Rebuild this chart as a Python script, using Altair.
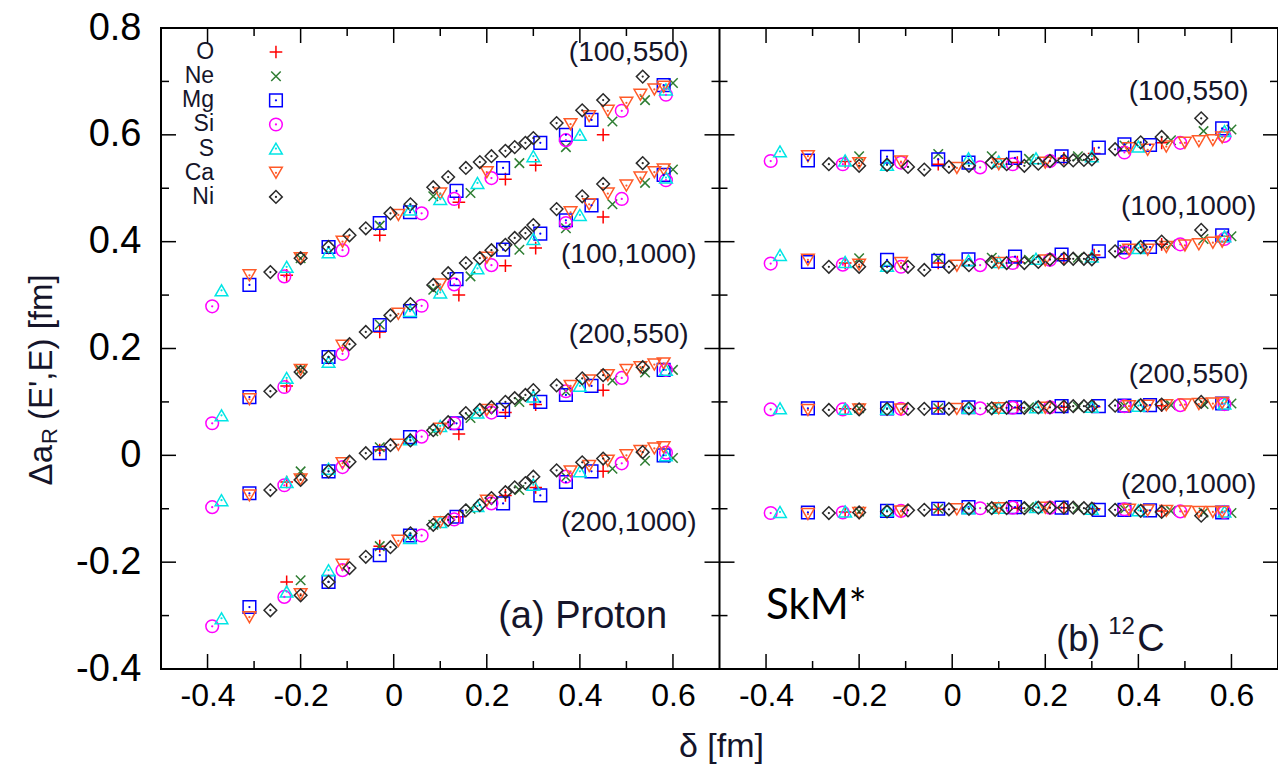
import altair as alt
import pandas as pd

# ---------------- data ----------------
SPECIES = ["O", "Ne", "Mg", "Si", "S", "Ca", "Ni"]
COLORS = ["#ff0000", "#2e7d32", "#0000ff", "#ff00ff", "#00e5e5", "#ff5a28", "#2b2b2b"]
PLUS = "M-1,0L1,0M0,-1L0,1"
CROSS = "M-0.75,-0.75L0.75,0.75M-0.75,0.75L0.75,-0.75"
SHAPES = [PLUS, CROSS, "square", "circle", "triangle-up", "triangle-down", "diamond"]
DOTTED = ["Mg", "Si", "S", "Ca", "Ni"]

DELTA = {
    "O": [-0.23, -0.03, 0.14, 0.24, 0.305, 0.45],
    "Ne": [-0.2, -0.03, 0.085, 0.165, 0.27, 0.37, 0.47, 0.54, 0.6],
    "Mg": [-0.31, -0.14, -0.03, 0.035, 0.135, 0.235, 0.315, 0.37, 0.425, 0.58],
    "Si": [-0.39, -0.235, -0.11, 0.06, 0.13, 0.21, 0.37, 0.49, 0.585],
    "S": [-0.37, -0.23, -0.14, 0.035, 0.1, 0.18, 0.3, 0.4, 0.585],
    "Ca": [-0.31, -0.2, -0.11, 0.01, 0.1, 0.2, 0.38, 0.42, 0.46, 0.5, 0.53, 0.56, 0.58],
    "Ni": [-0.265, -0.2, -0.14, -0.095, -0.06, -0.007, 0.036, 0.085, 0.117, 0.155,
           0.185, 0.21, 0.24, 0.26, 0.283, 0.30, 0.35, 0.405, 0.45, 0.535],
}

# (a) Proton
P_100_550 = {
    "O": [0.337, 0.412, 0.474, 0.517, 0.543, 0.600],
    "Ne": [0.369, 0.430, 0.485, 0.491, 0.547, 0.577, 0.625, 0.665, 0.697],
    "Mg": [0.319, 0.390, 0.435, 0.455, 0.495, 0.538, 0.585, 0.600, 0.628, 0.693],
    "Si": [0.279, 0.335, 0.384, 0.453, 0.480, 0.519, 0.590, 0.645, 0.675],
    "S": [0.309, 0.353, 0.380, 0.460, 0.480, 0.510, 0.560, 0.600, 0.685],
    "Ca": [0.337, 0.369, 0.400, 0.450, 0.490, 0.530, 0.620, 0.635, 0.645, 0.660, 0.675, 0.685, 0.690],
    "Ni": [0.343, 0.369, 0.390, 0.412, 0.425, 0.453, 0.470, 0.502, 0.521, 0.538,
           0.549, 0.560, 0.570, 0.577, 0.585, 0.594, 0.622, 0.646, 0.665, 0.709],
}
P_100_1000 = {
    "O": [0.130, 0.231, 0.300, 0.355, 0.388, 0.446],
    "Ne": [0.160, 0.245, 0.310, 0.335, 0.385, 0.425, 0.470, 0.510, 0.535],
    "Mg": [0.109, 0.184, 0.244, 0.270, 0.330, 0.385, 0.415, 0.440, 0.468, 0.525],
    "Si": [0.060, 0.128, 0.190, 0.280, 0.320, 0.356, 0.435, 0.480, 0.515],
    "S": [0.075, 0.145, 0.175, 0.270, 0.305, 0.350, 0.405, 0.450, 0.520],
    "Ca": [0.105, 0.160, 0.205, 0.265, 0.320, 0.370, 0.455, 0.470, 0.490, 0.505, 0.520, 0.530, 0.535],
    "Ni": [0.120, 0.156, 0.184, 0.208, 0.231, 0.262, 0.283, 0.319, 0.341, 0.360,
           0.369, 0.384, 0.394, 0.407, 0.416, 0.431, 0.461, 0.485, 0.508, 0.547],
}
P_200_550 = {
    "O": [-0.050, 0.010, 0.040, 0.080, 0.095, 0.122],
    "Ne": [-0.030, 0.015, 0.045, 0.070, 0.100, 0.120, 0.140, 0.155, 0.160],
    "Mg": [-0.071, -0.030, 0.004, 0.034, 0.060, 0.085, 0.100, 0.113, 0.130, 0.160],
    "Si": [-0.097, -0.056, -0.022, 0.035, 0.060, 0.080, 0.120, 0.145, 0.160],
    "S": [-0.084, -0.050, -0.025, 0.030, 0.055, 0.080, 0.110, 0.130, 0.160],
    "Ca": [-0.075, -0.045, -0.015, 0.020, 0.050, 0.085, 0.130, 0.140, 0.150, 0.160, 0.165, 0.170, 0.172],
    "Ni": [-0.065, -0.046, -0.030, -0.012, 0.004, 0.019, 0.028, 0.047, 0.062, 0.079,
           0.085, 0.090, 0.100, 0.107, 0.113, 0.122, 0.131, 0.144, 0.150, 0.165],
}
P_200_1000 = {
    "O": [-0.237, -0.170, -0.115, -0.075, -0.060, -0.030],
    "Ne": [-0.234, -0.170, -0.130, -0.100, -0.065, -0.040, -0.025, -0.010, -0.005],
    "Mg": [-0.284, -0.237, -0.187, -0.150, -0.115, -0.090, -0.075, -0.050, -0.030, 0.000],
    "Si": [-0.320, -0.265, -0.215, -0.150, -0.120, -0.090, -0.040, -0.015, 0.005],
    "S": [-0.305, -0.255, -0.215, -0.155, -0.125, -0.095, -0.055, -0.030, 0.000],
    "Ca": [-0.303, -0.260, -0.205, -0.160, -0.125, -0.085, -0.030, -0.020, -0.010, 0.000, 0.008, 0.013, 0.015],
    "Ni": [-0.290, -0.262, -0.237, -0.211, -0.190, -0.172, -0.146, -0.130, -0.121, -0.103,
           -0.093, -0.080, -0.069, -0.060, -0.052, -0.040, -0.028, -0.013, -0.006, 0.006],
}

# (b) 12C
C_100_550 = {
    "O": [0.550, 0.545, 0.548, 0.556, 0.565, 0.585],
    "Ne": [0.560, 0.564, 0.560, 0.555, 0.560, 0.580, 0.590, 0.607, 0.610],
    "Mg": [0.552, 0.559, 0.554, 0.548, 0.557, 0.560, 0.576, 0.582, 0.581, 0.612],
    "Si": [0.551, 0.545, 0.548, 0.539, 0.545, 0.551, 0.567, 0.585, 0.598],
    "S": [0.569, 0.552, 0.544, 0.556, 0.550, 0.556, 0.560, 0.578, 0.607],
    "Ca": [0.560, 0.547, 0.550, 0.538, 0.545, 0.548, 0.575, 0.572, 0.578, 0.585, 0.588, 0.590, 0.595],
    "Ni": [0.545, 0.542, 0.544, 0.540, 0.535, 0.540, 0.542, 0.548, 0.545, 0.542,
           0.546, 0.551, 0.552, 0.552, 0.553, 0.554, 0.573, 0.586, 0.596, 0.631],
}
C_100_1000 = {
    "O": [0.360, 0.360, 0.362, 0.368, 0.375, 0.395],
    "Ne": [0.369, 0.370, 0.370, 0.366, 0.370, 0.385, 0.395, 0.405, 0.410],
    "Mg": [0.362, 0.366, 0.364, 0.367, 0.372, 0.376, 0.382, 0.389, 0.390, 0.412],
    "Si": [0.359, 0.357, 0.353, 0.356, 0.360, 0.366, 0.380, 0.395, 0.405],
    "S": [0.375, 0.362, 0.355, 0.365, 0.362, 0.368, 0.372, 0.388, 0.410],
    "Ca": [0.366, 0.357, 0.360, 0.355, 0.360, 0.365, 0.385, 0.385, 0.390, 0.393, 0.395, 0.398, 0.400],
    "Ni": [0.353, 0.353, 0.353, 0.353, 0.347, 0.353, 0.356, 0.362, 0.360, 0.360,
           0.362, 0.367, 0.368, 0.368, 0.368, 0.367, 0.382, 0.390, 0.400, 0.422],
}
C_200_550 = {
    "O": [0.087, 0.088, 0.089, 0.090, 0.091, 0.093],
    "Ne": [0.088, 0.088, 0.089, 0.090, 0.091, 0.093, 0.094, 0.096, 0.097],
    "Mg": [0.088, 0.088, 0.089, 0.090, 0.090, 0.092, 0.092, 0.093, 0.094, 0.097],
    "Si": [0.086, 0.086, 0.087, 0.088, 0.089, 0.090, 0.092, 0.094, 0.096],
    "S": [0.088, 0.087, 0.087, 0.089, 0.089, 0.090, 0.091, 0.093, 0.097],
    "Ca": [0.085, 0.086, 0.086, 0.087, 0.088, 0.089, 0.092, 0.093, 0.094, 0.095, 0.096, 0.097, 0.098],
    "Ni": [0.085, 0.086, 0.087, 0.087, 0.087, 0.087, 0.088, 0.088, 0.089, 0.089,
           0.090, 0.090, 0.091, 0.092, 0.092, 0.092, 0.093, 0.094, 0.095, 0.100],
}
C_200_1000 = {
    "O": [-0.106, -0.101, -0.099, -0.098, -0.100, -0.104],
    "Ne": [-0.105, -0.100, -0.098, -0.097, -0.098, -0.101, -0.104, -0.107, -0.108],
    "Mg": [-0.107, -0.104, -0.100, -0.097, -0.097, -0.098, -0.102, -0.102, -0.103, -0.107],
    "Si": [-0.108, -0.107, -0.104, -0.099, -0.098, -0.098, -0.101, -0.105, -0.106],
    "S": [-0.106, -0.105, -0.103, -0.099, -0.098, -0.097, -0.100, -0.103, -0.105],
    "Ca": [-0.110, -0.108, -0.105, -0.101, -0.099, -0.098, -0.102, -0.103, -0.104, -0.105, -0.106, -0.106, -0.106],
    "Ni": [-0.108, -0.107, -0.105, -0.103, -0.102, -0.101, -0.100, -0.099, -0.099, -0.099,
           -0.098, -0.098, -0.098, -0.098, -0.099, -0.100, -0.102, -0.104, -0.106, -0.113],
}

CURVE_NAMES = ["(100,550)", "(100,1000)", "(200,550)", "(200,1000)"]
PANEL_CURVES = {"a": [P_100_550, P_100_1000, P_200_550, P_200_1000],
                "b": [C_100_550, C_100_1000, C_200_550, C_200_1000]}

# annotations (data coordinates of each panel)
LABEL_DELTA = {"a": 0.505, "b": 0.508}
LABEL_VALUE = {"a": [0.753, 0.375, 0.225, -0.127], "b": [0.68, 0.465, 0.15, -0.055]}
PROTON_TEXT, PROTON_DELTA, PROTON_VALUE = "(a) Proton", 0.406, -0.303
C12_PARTS = ["(b)", "12", "C"]          # "(b) ¹²C" with a true superscript
C12_DELTA, C12_VALUE = 0.318, -0.346
SKM_TEXT, SKM_DELTA, SKM_VALUE = "SkM*", -0.4, -0.282

# in-plot key (panel a): label column, symbol column, first row, row step
KEY_LABEL_DELTA = -0.386
KEY_SYMBOL_DELTA = -0.253
KEY_TOP = 0.755
KEY_STEP = 0.0452

X_MAJOR = [-0.4, -0.2, 0.0, 0.2, 0.4, 0.6]
X_MINOR = [-0.3, -0.1, 0.1, 0.3, 0.5]
Y_MAJOR = [-0.4, -0.2, 0.0, 0.2, 0.4, 0.6, 0.8]
Y_MINOR = [-0.3, -0.1, 0.1, 0.3, 0.5, 0.7]
X_DOMAIN = [-0.5, 1.9]   # two panels of width 1.2 side by side
Y_DOMAIN = [-0.4, 0.8]
SHIFT = 1.2              # panel (b) is drawn 1.2 to the right of panel (a)

# ---------------- tables ----------------
rows = []
for panel, curves in PANEL_CURVES.items():
    for name, curve in zip(CURVE_NAMES, curves):
        for sp in SPECIES:
            for d, v in zip(DELTA[sp], curve[sp]):
                rows.append({"panel": panel, "curve": name, "species": sp, "delta": d, "value": v})
points = pd.DataFrame(rows)

labels = pd.DataFrame([
    {"panel": p, "delta": LABEL_DELTA[p], "value": v, "text": t}
    for p in ("a", "b") for t, v in zip(CURVE_NAMES, LABEL_VALUE[p])
])
proton = pd.DataFrame({"panel": ["a"], "delta": [PROTON_DELTA], "value": [PROTON_VALUE]})
c12 = pd.DataFrame({"panel": ["b"], "delta": [C12_DELTA], "value": [C12_VALUE]})
skm = pd.DataFrame({"panel": ["b"], "delta": [SKM_DELTA], "value": [SKM_VALUE]})
key = pd.DataFrame({"species": SPECIES, "idx": list(range(len(SPECIES)))})
xt_major = pd.DataFrame([{"panel": p, "delta": v} for p in ("a", "b") for v in X_MAJOR])
xt_minor = pd.DataFrame([{"panel": p, "delta": v} for p in ("a", "b") for v in X_MINOR])
yt_major = pd.DataFrame({"value": Y_MAJOR})
yt_minor = pd.DataFrame({"value": Y_MINOR})

# ---------------- chart ----------------
W, H = 1117, 641
FONT = "Liberation Sans, Arial, sans-serif"
TXT = "#15152a"


def ch(df):
    return alt.Chart(df).transform_calculate(
        xpos=f"datum.delta + (datum.panel == 'b' ? {SHIFT} : 0)")


xv = f"(datum.value > 0.65 ? datum.value - {SHIFT} : datum.value)"
X = alt.X("xpos:Q",
          scale=alt.Scale(domain=X_DOMAIN, nice=False, zero=False),
          axis=alt.Axis(values=[v + off for off in (0, SHIFT) for v in X_MAJOR],
                        labelExpr=f"abs({xv}) < 0.001 ? '0' : ({xv} < 0 ? '-' : '') + format(abs({xv}), '.1f')",
                        ticks=False, domain=False, grid=False, title=None,
                        labelFont=FONT, labelFontSize=32, labelColor="black",
                        labelPadding=11, labelFlush=False, labelOverlap=False))
Y = alt.Y("value:Q",
          scale=alt.Scale(domain=Y_DOMAIN, nice=False, zero=False),
          axis=alt.Axis(values=Y_MAJOR,
                        labelExpr="abs(datum.value) < 0.001 ? '0' : (datum.value < 0 ? '-' : '') + format(abs(datum.value), '.1f')",
                        ticks=False, domain=False, grid=False, title=None,
                        labelFont=FONT, labelFontSize=38, labelColor="black",
                        labelPadding=20, labelFlush=False, labelOverlap=False))

color_scale = alt.Scale(domain=SPECIES, range=COLORS)
shape_scale = alt.Scale(domain=SPECIES, range=SHAPES)
COLOR = alt.Color("species:N", scale=color_scale, legend=None)
SHAPE = alt.Shape("species:N", scale=shape_scale, legend=None)
DOT_FILTER = alt.FieldOneOfPredicate(field="species", oneOf=DOTTED)

pts = ch(points).mark_point(filled=False, size=160, strokeWidth=1.5, opacity=1).encode(
    x=X, y=Y, color=COLOR, shape=SHAPE)
dots = ch(points).transform_filter(DOT_FILTER).mark_point(
    filled=True, size=5, opacity=1, shape="circle").encode(x=X, y=Y, color=COLOR)

# key drawn inside panel (a)
key_base = alt.Chart(key).transform_calculate(value=f"{KEY_TOP} - datum.idx * {KEY_STEP}")
key_text = key_base.transform_calculate(xpos=f"{KEY_LABEL_DELTA}").mark_text(
    font=FONT, fontSize=23, color=TXT, align="right", baseline="middle").encode(x=X, y=Y, text="species:N")
key_pts = key_base.transform_calculate(xpos=f"{KEY_SYMBOL_DELTA}").mark_point(
    filled=False, size=160, strokeWidth=1.5, opacity=1).encode(x=X, y=Y, color=COLOR, shape=SHAPE)
key_dots = key_base.transform_calculate(xpos=f"{KEY_SYMBOL_DELTA}").transform_filter(DOT_FILTER).mark_point(
    filled=True, size=5, opacity=1, shape="circle").encode(x=X, y=Y, color=COLOR)

curve_labels = ch(labels).mark_text(font=FONT, fontSize=28, color=TXT, align="center",
                                    baseline="middle").encode(x=X, y=Y, text="text:N")
proton_text = ch(proton).mark_text(text=PROTON_TEXT, font=FONT, fontSize=38, color=TXT,
                                   align="center", baseline="middle").encode(x=X, y=Y)
c12_text = [
    ch(c12).mark_text(text=C12_PARTS[0], font=FONT, fontSize=36, color=TXT,
                      align="right", baseline="middle").encode(x=X, y=Y),
    ch(c12).mark_text(text=C12_PARTS[1], font=FONT, fontSize=24, color=TXT, dx=8, dy=-13,
                      align="left", baseline="middle").encode(x=X, y=Y),
    ch(c12).mark_text(text=C12_PARTS[2], font=FONT, fontSize=38, color=TXT, dx=37,
                      align="left", baseline="middle").encode(x=X, y=Y),
]
skm_text = ch(skm).mark_text(text=SKM_TEXT, font="Lato, Open Sans, sans-serif", fontSize=42,
                             color="black", align="left", baseline="middle").encode(x=X, y=Y)

MAJ, MIN, TW = 15, 8, 1.5
bot_major = ch(xt_major).mark_rule(color="black", strokeWidth=TW).encode(x=X, y=alt.value(H), y2=alt.value(H - MAJ))
top_major = ch(xt_major).mark_rule(color="black", strokeWidth=TW).encode(x=X, y=alt.value(0), y2=alt.value(MAJ))
bot_minor = ch(xt_minor).mark_rule(color="black", strokeWidth=TW).encode(x=X, y=alt.value(H), y2=alt.value(H - MIN))
top_minor = ch(xt_minor).mark_rule(color="black", strokeWidth=TW).encode(x=X, y=alt.value(0), y2=alt.value(MIN))


def yticks(df, length):
    base = alt.Chart(df).mark_rule(color="black", strokeWidth=TW)
    return [
        base.encode(y=Y, x=alt.value(0), x2=alt.value(length)),
        base.encode(y=Y, x=alt.value(W), x2=alt.value(W - length)),
        base.encode(y=Y, x=alt.value(W / 2 - length), x2=alt.value(W / 2 + length)),
    ]


one = pd.DataFrame({"k": [0]})
divider = alt.Chart(one).mark_rule(color="black", strokeWidth=2).encode(
    x=alt.value(W / 2), y=alt.value(0), y2=alt.value(H))

YT_X, YT_Y = -119, 417
ytitle = [
    alt.Chart(one).mark_text(text="\u0394a", angle=270, align="right", baseline="middle",
                             font=FONT, fontSize=33, color=TXT).encode(x=alt.value(YT_X), y=alt.value(YT_Y)),
    alt.Chart(one).mark_text(text="R", angle=270, align="left", baseline="middle", dx=1, dy=8,
                             font=FONT, fontSize=22, color=TXT).encode(x=alt.value(YT_X), y=alt.value(YT_Y)),
    alt.Chart(one).mark_text(text="(E',E) [fm]", angle=270, align="left", baseline="middle", dx=25,
                             font=FONT, fontSize=33, color=TXT).encode(x=alt.value(YT_X), y=alt.value(YT_Y)),
]
xtitle = alt.Chart(one).mark_text(text="\u03b4 [fm]", align="center", baseline="middle",
                                  font=FONT, fontSize=34, color=TXT).encode(
    x=alt.value(W / 2 + 2), y=alt.value(H + 78))

chart = alt.layer(
    pts, dots,
    bot_major, top_major, bot_minor, top_minor,
    *yticks(yt_major, MAJ), *yticks(yt_minor, MIN),
    divider,
    key_text, key_pts, key_dots,
    curve_labels, proton_text, *c12_text, skm_text, *ytitle, xtitle,
).properties(
    width=W, height=H,
    padding={"left": 161, "top": 28, "right": 0, "bottom": 101},
    autosize="none",
    background="white",
).configure_view(stroke="black", strokeWidth=2)

chart.save("out.html", embed_options={"renderer": "svg", "actions": False})
